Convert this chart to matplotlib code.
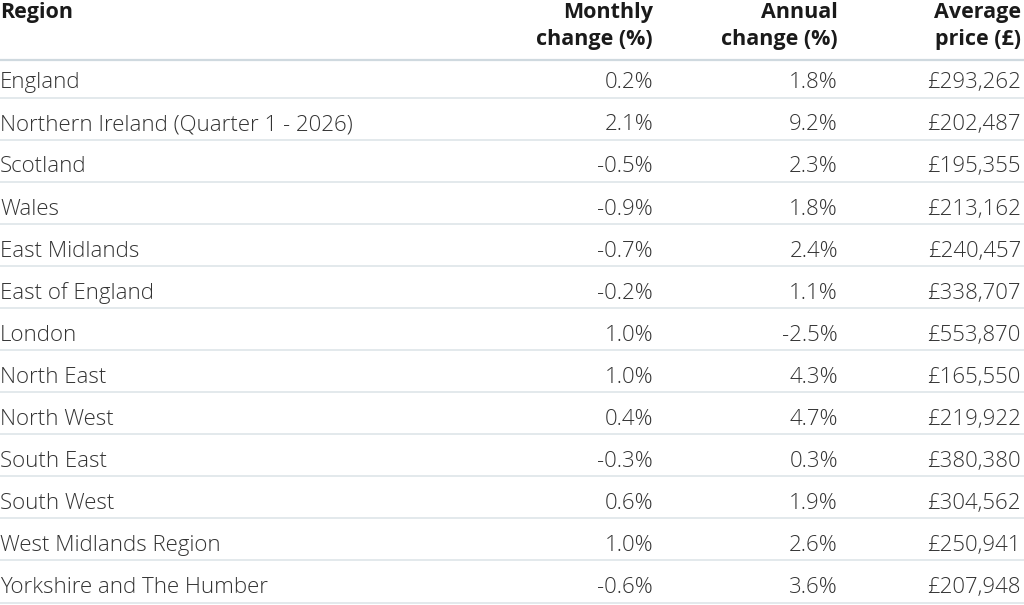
import matplotlib
matplotlib.use("Agg")
import matplotlib.pyplot as plt

plt.rcParams['font.family'] = ['Open Sans', 'DejaVu Sans']

headers = [["Region"], ["Monthly", "change (%)"], ["Annual", "change (%)"], ["Average", "price (£)"]]
regions = ["England", "Northern Ireland (Quarter 1 - 2026)", "Scotland", "Wales",
           "East Midlands", "East of England", "London", "North East", "North West",
           "South East", "South West", "West Midlands Region", "Yorkshire and The Humber"]
monthly = ["0.2%", "2.1%", "-0.5%", "-0.9%", "-0.7%", "-0.2%", "1.0%", "1.0%",
           "0.4%", "-0.3%", "0.6%", "1.0%", "-0.6%"]
annual = ["1.8%", "9.2%", "2.3%", "1.8%", "2.4%", "1.1%", "-2.5%", "4.3%",
          "4.7%", "0.3%", "1.9%", "2.6%", "3.6%"]
price = ["£293,262", "£202,487", "£195,355", "£213,162", "£240,457", "£338,707",
         "£553,870", "£165,550", "£219,922", "£380,380", "£304,562", "£250,941", "£207,948"]

W, H = 1024, 605
fig = plt.figure(figsize=(W / 100, H / 100), dpi=100)
ax = fig.add_axes([0, 0, 1, 1])
ax.set_xlim(0, W)
ax.set_ylim(H, 0)
ax.axis('off')

text_color = '#333333'
head_color = '#1a1a1a'
fs = 16

col_x = [0, 653, 838, 1021]
col_ha = ['left', 'right', 'right', 'right']

# header
for x, ha, lines in zip(col_x, col_ha, headers):
    for j, ln in enumerate(lines):
        ax.text(x, 17.8 + 27 * j, ln, ha=ha, va='baseline', fontsize=15.5,
                fontweight='bold', color=head_color)
ax.plot([0, W], [60, 60], color='#cfd9df', lw=1.6, solid_capstyle='butt')

first_line = 97.6
row_h = 42.08
for i, row in enumerate(zip(regions, monthly, annual, price)):
    yl = first_line + row_h * i
    for x, ha, v in zip(col_x, col_ha, row):
        ax.text(x, yl - 9.3, v, ha=ha, va='baseline', fontsize=fs,
                fontweight='light', color=text_color)
    ax.plot([0, W], [yl, yl], color='#e1e7eb', lw=1.3, solid_capstyle='butt')

fig.savefig('out.png', dpi=100)
